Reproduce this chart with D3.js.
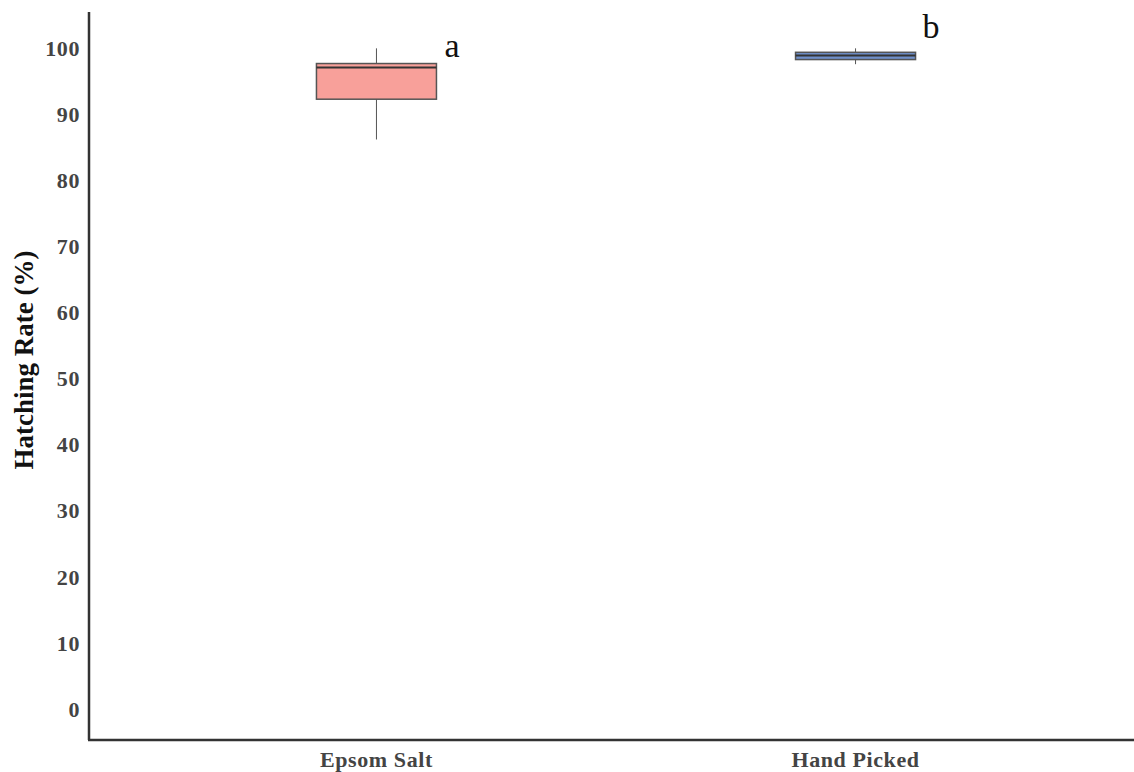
<!DOCTYPE html>
<html>
<head>
<meta charset="utf-8">
<script src="https://cdn.jsdelivr.net/npm/d3@7"></script>
<style>
  body { margin: 0; background: #ffffff; }
  text { font-family: "Liberation Serif", "DejaVu Serif", serif; }
</style>
</head>
<body>
<div id="chart"></div>
<script>
// data
const groups = ["Epsom Salt", "Hand Picked"];
const mins = [86.2, 97.6];
const q1s = [92.3, 98.3];
const medians = [97.1, 98.9];
const q3s = [97.7, 99.4];
const maxs = [100, 100];
const letters = ["a", "b"];
const fills = ["#f8a09a", "#6f8fc9"];
const yTicks = [0, 10, 20, 30, 40, 50, 60, 70, 80, 90, 100];

const width = 1134;
const height = 772;

const svg = d3.select("#chart")
    .append("svg")
    .attr("width", width)
    .attr("height", height);

const x = d3.scalePoint()
    .domain(groups)
    .range([89, 1143])
    .padding(0.6);

const y = d3.scaleLinear()
    .domain([-4.7, 105.5])
    .range([740, 12]);

const boxW = 120;

const data = groups.map((g, i) => ({
    group: g,
    min: mins[i], q1: q1s[i], median: medians[i], q3: q3s[i], max: maxs[i],
    letter: letters[i], fill: fills[i]
}));

// y tick labels (no tick marks)
svg.append("g")
    .selectAll("text")
    .data(yTicks)
    .enter()
    .append("text")
    .attr("x", 80)
    .attr("y", (d) => y(d))
    .attr("dy", "0.35em")
    .attr("text-anchor", "end")
    .style("font-size", "22px")
    .style("font-weight", "bold")
    .style("letter-spacing", "0.6px")
    .style("fill", "#444")
    .text((d) => d);

// x labels
svg.append("g")
    .selectAll("text")
    .data(groups)
    .enter()
    .append("text")
    .attr("x", (d) => x(d))
    .attr("y", 767)
    .attr("text-anchor", "middle")
    .style("font-size", "22px")
    .style("font-weight", "bold")
    .style("letter-spacing", "0.6px")
    .style("fill", "#444")
    .text((d) => d);

// axis lines
svg.append("line")
    .attr("x1", 89).attr("x2", 89)
    .attr("y1", y.range()[1]).attr("y2", y.range()[0])
    .attr("stroke", "#333").attr("stroke-width", 2.5);
svg.append("line")
    .attr("x1", 88).attr("x2", width)
    .attr("y1", y.range()[0]).attr("y2", y.range()[0])
    .attr("stroke", "#333").attr("stroke-width", 2.5);

// y title
svg.append("text")
    .attr("transform", `translate(33, 360) rotate(-90)`)
    .attr("text-anchor", "middle")
    .style("font-size", "27px")
    .style("font-weight", "bold")
    .style("fill", "#111")
    .text("Hatching Rate (%)");

const box = svg.selectAll(".box")
    .data(data)
    .enter()
    .append("g")
    .attr("class", "box");

// whiskers
box.append("line")
    .attr("x1", (d) => x(d.group)).attr("x2", (d) => x(d.group))
    .attr("y1", (d) => y(d.max)).attr("y2", (d) => y(d.q3))
    .attr("stroke", "#555").attr("stroke-width", 1);
box.append("line")
    .attr("x1", (d) => x(d.group)).attr("x2", (d) => x(d.group))
    .attr("y1", (d) => y(d.q1)).attr("y2", (d) => y(d.min))
    .attr("stroke", "#555").attr("stroke-width", 1);

// boxes
box.append("rect")
    .attr("x", (d) => x(d.group) - boxW / 2)
    .attr("y", (d) => y(d.q3))
    .attr("width", boxW)
    .attr("height", (d) => y(d.q1) - y(d.q3))
    .attr("fill", (d) => d.fill)
    .attr("stroke", "#555")
    .attr("stroke-width", 1.5);

// medians
box.append("line")
    .attr("x1", (d) => x(d.group) - boxW / 2).attr("x2", (d) => x(d.group) + boxW / 2)
    .attr("y1", (d) => y(d.median)).attr("y2", (d) => y(d.median))
    .attr("stroke", "#333").attr("stroke-width", 2);

// significance letters
svg.append("text")
    .attr("x", x(groups[0]) + 68)
    .attr("y", 57)
    .style("font-size", "34px")
    .style("fill", "#111")
    .text(letters[0]);
svg.append("text")
    .attr("x", x(groups[1]) + 67)
    .attr("y", 38)
    .style("font-size", "34px")
    .style("fill", "#111")
    .text(letters[1]);
</script>
</body>
</html>
